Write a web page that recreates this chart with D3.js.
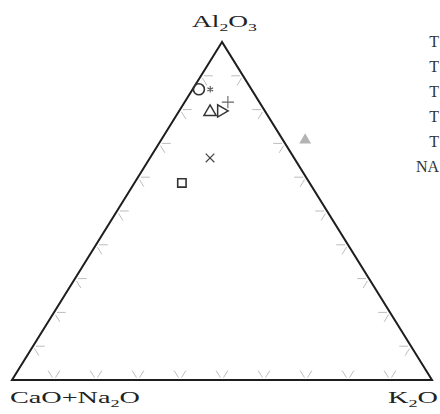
<!DOCTYPE html>
<html>
<head>
<meta charset="utf-8">
<script src="https://cdn.jsdelivr.net/npm/d3@7"></script>
<style>
  html, body { margin: 0; padding: 0; background: #fff; overflow: hidden; }
  svg { display: block; }
</style>
</head>
<body>
<svg id="chart"></svg>
<script>
// ternary compositions (percent)
var samples = ["s1", "s2", "s3", "s4", "s5", "s6", "s7", "s8"];
var al2o3   = [86.0, 86.0, 79.3, 79.6, 82.2, 71.0, 65.7, 58.3];
var caoNa2o = [12.5,  9.8, 13.2, 10.4,  7.5, -5.3, 20.0, 30.4];
var k2o     = [ 1.5,  4.2,  7.5, 10.0, 10.3, 34.3, 14.3, 11.3];

// marker per sample (style, kept apart from the values)
var markers = ["circle", "star", "triangle", "tri-right", "plus", "tri-filled", "times", "square"];

// only the visible part of the legend survives at the picture's right edge
var legendLabels = ["T", "T", "T", "T", "T", "NA"];
var tickSteps = [10, 20, 30, 40, 50, 60, 70, 80, 90];

document.addEventListener("DOMContentLoaded", function() {

    var width = 440;
    var height = 414;

    var svg = d3.select("#chart")
        .attr("width", width)
        .attr("height", height);

    // x runs along the base (K2O share + half of Al2O3), y up with Al2O3
    var xScale = d3.scaleLinear().domain([0, 100]).range([12, 432]);
    var yScale = d3.scaleLinear().domain([0, 100]).range([380, 42]);

    function px(a, c, k) { return xScale(k + a / 2); }
    function py(a, c, k) { return yScale(a); }

    // little chevron ticks, arms along the two inner grid directions
    var tickColor = "#bdbdbd";
    var t0 = 0.7, t1 = 2.8;
    var tickG = svg.append("g")
        .attr("stroke", tickColor)
        .attr("stroke-width", 1)
        .attr("fill", "none");

    tickSteps.forEach(function(v) {
        var segs = [];
        // base edge (Al2O3 = 0), k = v
        segs.push([[t0, 100 - v - t0, v], [t1, 100 - v - t1, v]]);
        segs.push([[t0, 100 - v, v - t0], [t1, 100 - v, v - t1]]);
        // left edge (K2O = 0), a = v
        segs.push([[v, 100 - v - t0, t0], [v, 100 - v - t1, t1]]);
        segs.push([[v - t0, 100 - v, t0], [v - t1, 100 - v, t1]]);
        // right edge (CaO+Na2O = 0), a = v
        segs.push([[v, t0, 100 - v - t0], [v, t1, 100 - v - t1]]);
        segs.push([[v - t0, t0, 100 - v], [v - t1, t1, 100 - v]]);
        segs.forEach(function(s) {
            tickG.append("line")
                .attr("x1", px.apply(null, s[0])).attr("y1", py.apply(null, s[0]))
                .attr("x2", px.apply(null, s[1])).attr("y2", py.apply(null, s[1]));
        });
    });

    // triangle frame
    var corners = [[100, 0, 0], [0, 100, 0], [0, 0, 100]];
    svg.append("path")
        .attr("d", d3.line()(corners.map(function(c) { return [px(c[0], c[1], c[2]), py(c[0], c[1], c[2])]; })) + "Z")
        .attr("fill", "none")
        .attr("stroke", "#1e1e1e")
        .attr("stroke-width", 2)
        .attr("stroke-linejoin", "miter");

    // corner labels with subscripts
    function label(x, y, parts, len) {
        var t = svg.append("text")
            .attr("x", x).attr("y", y)
            .attr("font-family", "'Liberation Serif', 'Times New Roman', serif")
            .attr("font-size", 17)
            .attr("fill", "#222");
        parts.forEach(function(p) {
            var s = t.append("tspan").text(p[0]);
            if (p[1]) s.attr("font-size", 11).attr("dy", 4);
            else if (p[2]) s.attr("dy", -4);
        });
        t.attr("textLength", len).attr("lengthAdjust", "spacingAndGlyphs");
    }
    label(192, 27, [["Al"], ["2", true], ["O", false, true], ["3", true]], 65);
    label(10, 403, [["CaO+Na"], ["2", true], ["O", false, true]], 130);
    label(388, 403, [["K"], ["2", true], ["O", false, true]], 50);

    // sample points
    var sym = {
        "circle":     { type: d3.symbolCircle,   size: 95, fill: "none", stroke: "#333", sw: 1.6, rot: 0 },
        "star":       { type: d3.symbolAsterisk, size: 30, fill: "none", stroke: "#555", sw: 1.1, rot: 0 },
        "triangle":   { type: d3.symbolTriangle, size: 64, fill: "none", stroke: "#333", sw: 1.5, rot: 0 },
        "tri-right":  { type: d3.symbolTriangle, size: 64, fill: "none", stroke: "#333", sw: 1.5, rot: 90 },
        "plus":       { type: d3.symbolPlus,     size: 50, fill: "none", stroke: "#666", sw: 1.1, rot: 0 },
        "tri-filled": { type: d3.symbolTriangle, size: 60, fill: "#b3b3b3", stroke: "none", sw: 0, rot: 0 },
        "times":      { type: d3.symbolTimes,    size: 50, fill: "none", stroke: "#444", sw: 1.2, rot: 0 },
        "square":     { type: d3.symbolSquare,   size: 70, fill: "none", stroke: "#333", sw: 1.6, rot: 0 }
    };

    svg.append("g").selectAll("path")
        .data(samples.map(function(s, i) { return { a: al2o3[i], c: caoNa2o[i], k: k2o[i], m: markers[i] }; }))
        .enter()
        .append("path")
        .attr("d", function(d) { return d3.symbol().type(sym[d.m].type).size(sym[d.m].size)(); })
        .attr("transform", function(d) {
            return "translate(" + px(d.a, d.c, d.k) + "," + py(d.a, d.c, d.k) + ") rotate(" + sym[d.m].rot + ")";
        })
        .attr("fill", function(d) { return sym[d.m].fill; })
        .attr("stroke", function(d) { return sym[d.m].stroke; })
        .attr("stroke-width", function(d) { return sym[d.m].sw; });

    // legend column at the right edge
    var legendY = d3.scalePoint().domain(d3.range(legendLabels.length)).range([47, 172]);
    svg.append("g").selectAll("text")
        .data(legendLabels)
        .enter()
        .append("text")
        .attr("x", 439)
        .attr("y", function(d, i) { return legendY(i); })
        .attr("text-anchor", "end")
        .attr("font-family", "'Liberation Serif', 'Times New Roman', serif")
        .attr("font-size", 16)
        .attr("fill", "#333")
        .text(function(d) { return d; });
});
</script>
</body>
</html>
